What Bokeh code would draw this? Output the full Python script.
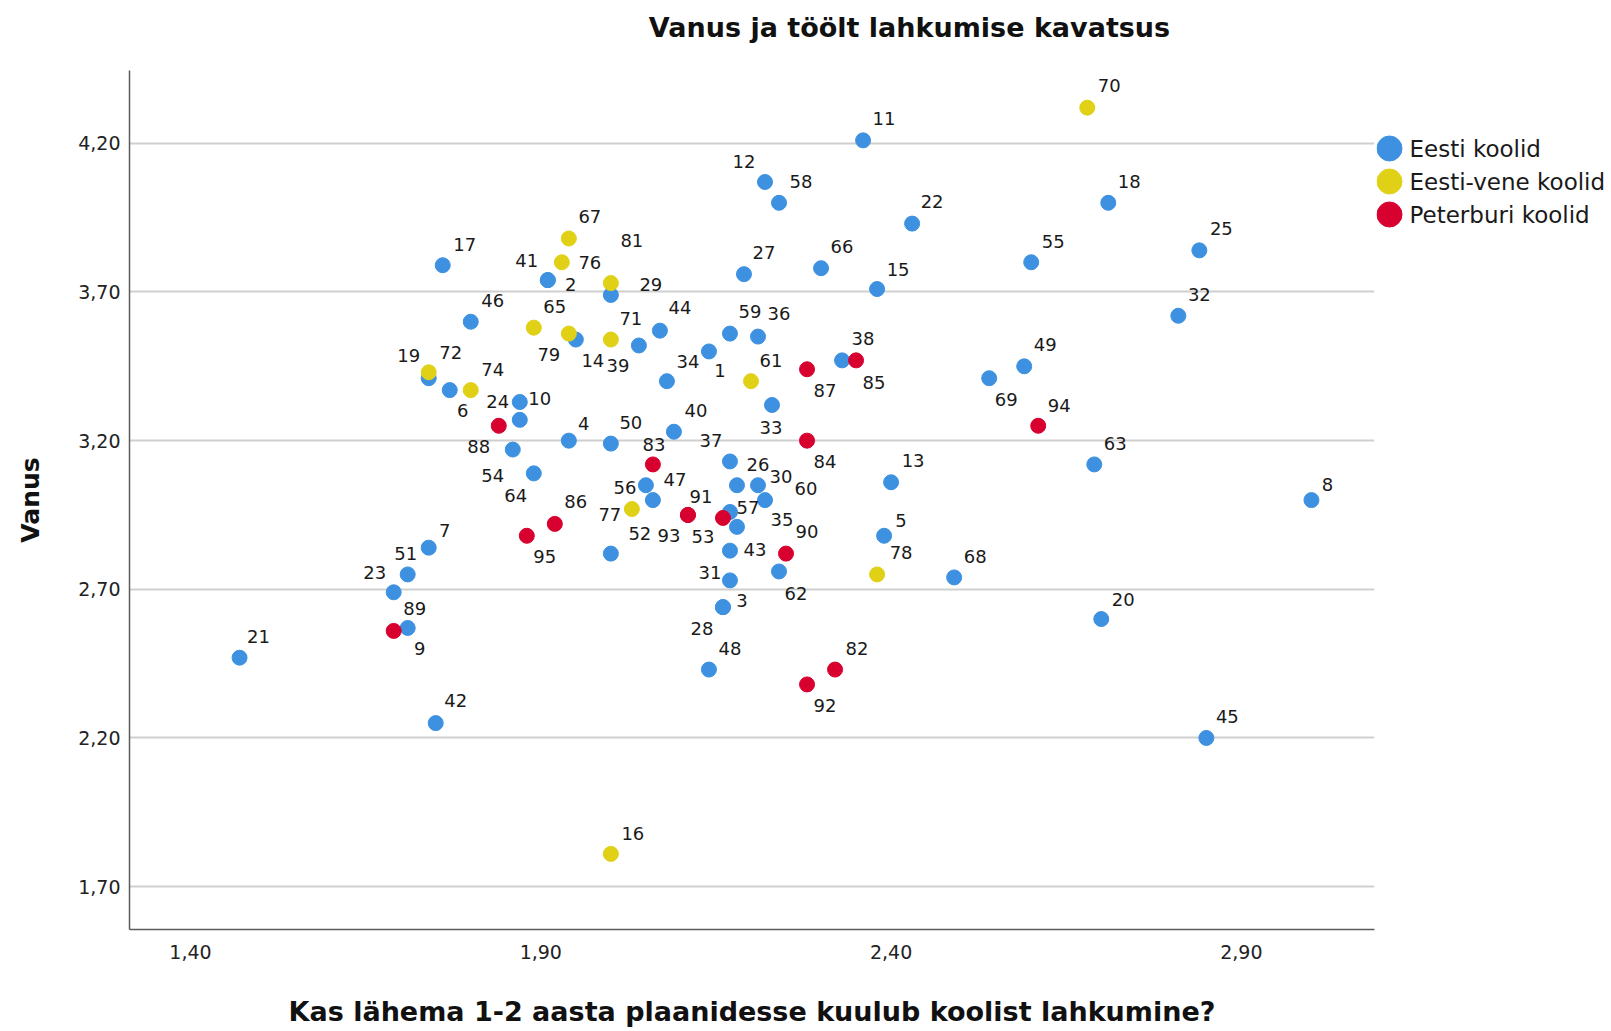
from bokeh.plotting import figure
from bokeh.layouts import row, column
from bokeh.models import (Range1d, FixedTicker, CustomJSTickFormatter, ColumnDataSource,
                          LabelSet)
from bokeh.embed import file_html
from bokeh.resources import INLINE
from bokeh.core.properties import value

# ---------------- data ----------------
TITLE = "Vanus ja töölt lahkumise kavatsus"
X_LABEL = "Kas lähema 1-2 aasta plaanidesse kuulub koolist lahkumine?"
Y_LABEL = "Vanus"
GROUPS = ["Eesti koolid", "Eesti-vene koolid", "Peterburi koolid"]
COLORS = ["#3d91e0", "#e0d117", "#d8002f"]

EESTI_ID = [1, 2, 3, 4, 5, 6, 7, 8, 9, 10, 11, 12, 13, 14, 15, 17, 18, 19, 20, 21, 22,
            23, 24, 25, 26, 27, 28, 29, 30, 31, 32, 33, 34, 35, 36, 37, 38, 39, 40, 41,
            42, 43, 44, 45, 46, 47, 48, 49, 50, 51, 52, 54, 55, 56, 57, 58, 59, 60, 62,
            63, 64, 66, 68, 69]
EESTI_X = [2.14, 1.91, 2.16, 1.94, 2.39, 1.77, 1.74, 3.00, 1.71, 1.87, 2.36, 2.22, 2.40, 1.95,
           2.38, 1.76, 2.71, 1.74, 2.70, 1.47, 2.43, 1.69, 1.87, 2.84, 2.18, 2.19, 2.16, 2.00,
           2.21, 2.17, 2.81, 2.23, 2.08, 2.18, 2.21, 2.17, 2.33, 2.04, 2.09, 1.91, 1.75, 2.17,
           2.07, 2.85, 1.80, 2.06, 2.14, 2.59, 2.00, 1.71, 2.00, 1.86, 2.60, 2.05, 2.17, 2.24,
           2.17, 2.22, 2.24, 2.69, 1.89, 2.30, 2.49, 2.54]
EESTI_Y = [3.50, 3.74, 2.64, 3.20, 2.88, 3.37, 2.84, 3.00, 2.57, 3.33, 4.21, 4.07, 3.06, 3.54,
           3.71, 3.79, 4.00, 3.41, 2.60, 2.47, 3.93, 2.69, 3.27, 3.84, 3.05, 3.76, 2.64, 3.69,
           3.05, 2.73, 3.62, 3.32, 3.40, 2.91, 3.55, 3.13, 3.47, 3.52, 3.23, 3.74, 2.25, 2.83,
           3.57, 2.20, 3.60, 3.00, 2.43, 3.45, 3.19, 2.75, 2.82, 3.17, 3.80, 3.05, 2.96, 4.00,
           3.56, 3.00, 2.76, 3.12, 3.09, 3.78, 2.74, 3.41]

VENE_ID = [16, 61, 65, 67, 70, 71, 72, 74, 76, 77, 78, 79, 81]
VENE_X = [2.00, 2.20, 1.89, 1.94, 2.68, 2.00, 1.74, 1.80, 1.93, 2.03, 2.38, 1.94, 2.00]
VENE_Y = [1.81, 3.40, 3.58, 3.88, 4.32, 3.54, 3.43, 3.37, 3.80, 2.97, 2.75, 3.56, 3.73]

PETERBURI_ID = [53, 82, 83, 84, 85, 86, 87, 88, 89, 90, 91, 92, 93, 94, 95]
PETERBURI_X = [2.16, 2.32, 2.06, 2.28, 2.35, 1.92, 2.28, 1.84, 1.69, 2.25, 2.11, 2.28, 2.11, 2.61, 1.88]
PETERBURI_Y = [2.94, 2.43, 3.12, 3.20, 3.47, 2.92, 3.44, 3.25, 2.56, 2.82, 2.95, 2.38, 2.95, 3.25, 2.88]

X_TICKS = [1.40, 1.90, 2.40, 2.90]
Y_TICKS = [1.70, 2.20, 2.70, 3.20, 3.70, 4.20]

# ---------------- layout (pixel offsets of the point-id labels: right, down) ----------------
LABEL_OFFSET = {
    1: (11, 19), 2: (23, 4), 3: (19, -7), 4: (15, -17), 5: (17, -15), 6: (13, 20), 7: (16, -17),
    8: (16, -16), 9: (12, 21), 10: (20, -3), 11: (21, -22), 12: (-21, -20), 13: (22, -22),
    14: (17, 21), 15: (21, -20), 16: (22, -20), 17: (22, -21), 18: (21, -21), 19: (-20, -23),
    20: (22, -20), 21: (19, -21), 22: (20, -22), 23: (-19, -20), 24: (-22, -18), 25: (22, -22),
    26: (21, -21), 27: (20, -22), 28: (-21, 21), 29: (40, -10), 30: (23, -9), 31: (-20, -8),
    32: (21, -21), 33: (-1, 23), 34: (21, -20), 35: (45, -7), 36: (21, -23), 37: (-19, -21),
    38: (21, -22), 39: (-21, 20), 40: (22, -21), 41: (-21, -20), 42: (20, -23), 43: (25, -1),
    44: (20, -23), 45: (21, -21), 46: (22, -21), 47: (22, -21), 48: (21, -21), 49: (21, -22),
    50: (20, -21), 51: (-2, -21), 52: (29, -20), 53: (-20, 19), 54: (-20, 26), 55: (22, -21),
    56: (-21, 2), 57: (18, -4), 58: (22, -21), 59: (20, -22), 60: (41, -12), 61: (20, -21),
    62: (17, 22), 63: (21, -21), 64: (-18, 22), 65: (21, -21), 66: (21, -22), 67: (21, -22),
    68: (21, -21), 69: (17, 21), 70: (22, -22), 71: (20, -21), 72: (22, -20), 74: (22, -21),
    76: (28, 0), 77: (-22, 5), 78: (24, -22), 79: (-20, 21), 81: (21, -43), 82: (22, -21),
    83: (1, -20), 84: (18, 21), 85: (18, 22), 86: (21, -22), 87: (18, 21), 88: (-20, 21),
    89: (21, -22), 90: (21, -22), 91: (13, -18), 92: (18, 21), 93: (-19, 21), 94: (21, -20),
    95: (18, 21),
}

TOTAL_W, TOTAL_H = 1611, 1031
TITLE_H = 70                      # title strip above the plot
MAIN_W, LEG_W = 1376, 235
PLOT_H = TOTAL_H - TITLE_H
BORDER_LEFT, BORDER_RIGHT, BORDER_BOTTOM = 129, 2, 102
FRAME_W = MAIN_W - BORDER_LEFT - BORDER_RIGHT
X_START, X_END = 1.3129, 3.0900
Y_START, Y_END = 1.5557, 4.4450


def fx(px):
    return X_START + (px - BORDER_LEFT) / FRAME_W * (X_END - X_START)


FONT = "DejaVu Sans"

# ---------------- title strip ----------------
tfig = figure(width=TOTAL_W, height=TITLE_H, output_backend="svg", toolbar_location=None,
              x_range=Range1d(X_START, X_END), y_range=Range1d(TITLE_H, 0), tools="",
              x_axis_type=None, y_axis_type=None,
              min_border_left=BORDER_LEFT, min_border_right=TOTAL_W - MAIN_W + BORDER_RIGHT,
              min_border_top=0, min_border_bottom=0)
tfig.outline_line_color = None
tfig.grid.visible = False
tfig.background_fill_color = "white"
tfig.border_fill_color = "white"
tfig.text(x=[fx(909)], y=[26.7], text=[TITLE], text_align="center", text_baseline="middle",
          text_font=value(FONT), text_font_size=value("27px"), text_font_style=value("bold"),
          text_color="#111111")

# ---------------- main plot ----------------
p = figure(width=MAIN_W, height=PLOT_H, output_backend="svg", toolbar_location=None,
           x_range=Range1d(X_START, X_END), y_range=Range1d(Y_START, Y_END),
           min_border_left=BORDER_LEFT, min_border_right=BORDER_RIGHT,
           min_border_top=0, min_border_bottom=BORDER_BOTTOM, tools="")
p.outline_line_color = None
p.xgrid.visible = False
p.ygrid.grid_line_color = "#cfcfcf"
p.ygrid.grid_line_width = 2
p.background_fill_color = "white"
p.border_fill_color = "white"

fmt = CustomJSTickFormatter(code="return tick.toFixed(2).replace('.', ',');")
for ax, ticks in ((p.xaxis[0], X_TICKS), (p.yaxis[0], Y_TICKS)):
    ax.ticker = FixedTicker(ticks=ticks)
    ax.formatter = fmt
    ax.major_tick_out = 0
    ax.major_tick_in = 0
    ax.minor_tick_out = 0
    ax.minor_tick_in = 0
    ax.axis_line_color = "#5c5c5c"
    ax.axis_line_width = 1.5
    ax.major_label_text_font = FONT
    ax.major_label_text_font_size = "19px"
    ax.major_label_text_color = "#222222"
    ax.axis_label_text_font = FONT
    ax.axis_label_text_font_style = "bold"
    ax.axis_label_text_color = "#111111"

p.xaxis.axis_label = X_LABEL
p.xaxis.axis_label_text_font_size = "27px"
p.xaxis.major_label_standoff = 15
p.xaxis.axis_label_standoff = 34
p.yaxis.axis_label = Y_LABEL
p.yaxis.axis_label_text_font_size = "25px"
p.yaxis.major_label_standoff = 9
p.yaxis.axis_label_standoff = 30

series = [(EESTI_ID, EESTI_X, EESTI_Y), (VENE_ID, VENE_X, VENE_Y),
          (PETERBURI_ID, PETERBURI_X, PETERBURI_Y)]
for (ids, xs, ys), color in zip(series, COLORS):
    p.scatter(x=xs, y=ys, size=15, marker="circle", fill_color=color, line_color=color)

lab_x, lab_y, lab_t, lab_dx, lab_dy = [], [], [], [], []
for ids, xs, ys in series:
    for i, x, y in zip(ids, xs, ys):
        dx, dy = LABEL_OFFSET[i]
        lab_x.append(x)
        lab_y.append(y)
        lab_t.append(str(i))
        lab_dx.append(dx)
        lab_dy.append(-dy)
src = ColumnDataSource(dict(x=lab_x, y=lab_y, t=lab_t, dx=lab_dx, dy=lab_dy))
p.add_layout(LabelSet(x="x", y="y", text="t", x_offset="dx", y_offset="dy", source=src,
                      text_align="center", text_baseline="middle", text_font=value(FONT),
                      text_font_size=value("18px"), text_color="#1a1a1a"))

# ---------------- legend panel (pixel coordinates of the page, y downward) ----------------
leg = figure(width=LEG_W, height=PLOT_H, output_backend="svg", toolbar_location=None,
             x_range=Range1d(0, LEG_W), y_range=Range1d(TOTAL_H - BORDER_BOTTOM, TITLE_H),
             tools="", x_axis_type=None, y_axis_type=None,
             min_border_left=0, min_border_right=0, min_border_top=0,
             min_border_bottom=BORDER_BOTTOM)
leg.outline_line_color = None
leg.grid.visible = False
leg.background_fill_color = "white"
leg.border_fill_color = "white"
leg_y = [148 + 33 * k for k in range(len(GROUPS))]
leg.scatter(x=[13] * len(GROUPS), y=leg_y, size=25, marker="circle",
            fill_color=COLORS, line_color=COLORS)
leg.text(x=[33] * len(GROUPS), y=leg_y, text=GROUPS, text_align="left",
         text_baseline="middle", text_font=value(FONT), text_font_size=value("23px"),
         text_color="#1a1a1a")

layout = column(tfig, row(p, leg, spacing=0), spacing=0)
open("out.html", "w").write(file_html(layout, INLINE))
